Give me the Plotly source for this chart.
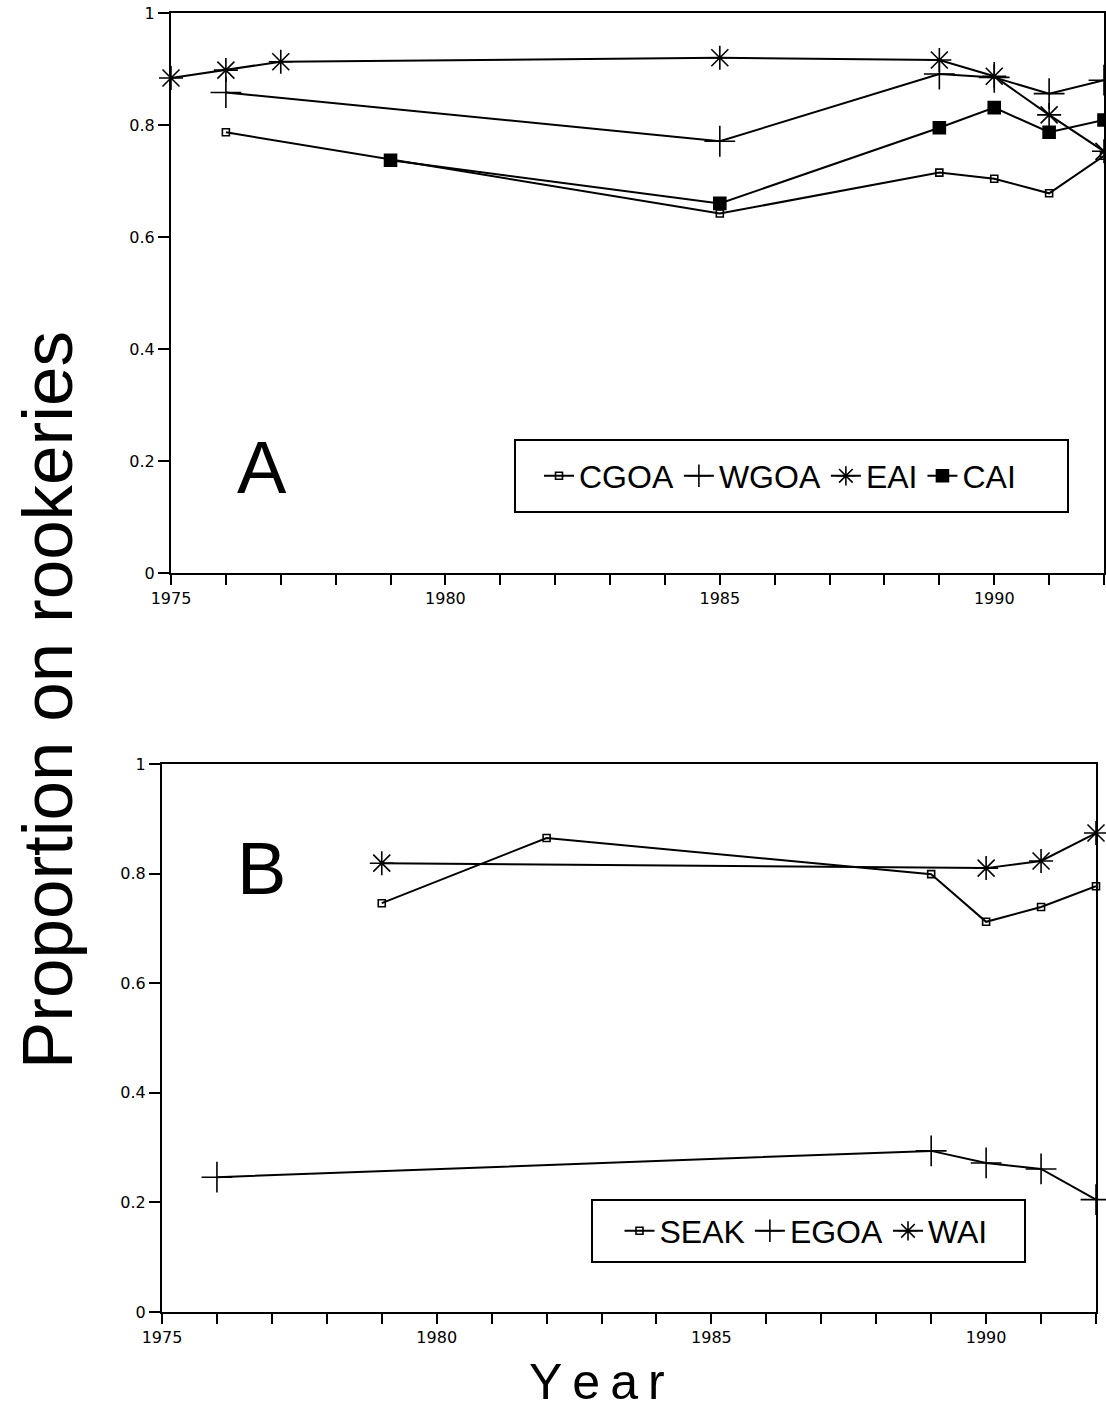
import plotly.graph_objects as go

# ---- Data ----
# Panel A
cgoa_years = [1976, 1985, 1989, 1990, 1991, 1992]
cgoa_vals = [0.787, 0.642, 0.715, 0.704, 0.678, 0.745]
wgoa_years = [1976, 1985, 1989, 1990, 1991, 1992]
wgoa_vals = [0.858, 0.771, 0.891, 0.885, 0.856, 0.880]
eai_years = [1975, 1976, 1977, 1985, 1989, 1990, 1991, 1992]
eai_vals = [0.884, 0.898, 0.913, 0.920, 0.916, 0.887, 0.818, 0.753]
cai_years = [1979, 1985, 1989, 1990, 1991, 1992]
cai_vals = [0.737, 0.660, 0.795, 0.831, 0.787, 0.809]

# Panel B
seak_years = [1979, 1982, 1989, 1990, 1991, 1992]
seak_vals = [0.746, 0.865, 0.799, 0.712, 0.739, 0.777]
egoa_years = [1976, 1989, 1990, 1991, 1992]
egoa_vals = [0.246, 0.294, 0.272, 0.261, 0.205]
wai_years = [1979, 1990, 1991, 1992]
wai_vals = [0.819, 0.810, 0.823, 0.874]

x_tick_years = list(range(1975, 1993))
x_tick_labels = [str(y) if y % 5 == 0 else "" for y in x_tick_years]
y_tick_vals = [0, 0.2, 0.4, 0.6, 0.8, 1]
y_tick_labels = ["0", "0.2", "0.4", "0.6", "0.8", "1"]

W, H = 1106, 1415
FONT = "Liberation Sans"
TICKFONT = dict(family="DejaVu Sans", size=16, color="black")


def px_x(p):
    return p / W


def px_y(p):
    return 1 - p / H


fig = go.Figure()

line = dict(color="black", width=2)


def add(x, y, name, symbol, size, xa, ya, legend, lw=1.6):
    fig.add_trace(go.Scatter(
        x=x, y=y, name=name, mode="lines+markers",
        line=line, cliponaxis=False,
        marker=dict(symbol=symbol, size=size, color="black",
                    line=dict(color="black", width=lw)),
        xaxis=xa, yaxis=ya, legend=legend,
    ))


add(cgoa_years, cgoa_vals, "CGOA", "square-open", 7, "x", "y", "legend")
add(wgoa_years, wgoa_vals, "WGOA", "cross-thin-open", 22, "x", "y", "legend")
add(eai_years, eai_vals, "EAI", "asterisk-open", 20, "x", "y", "legend")
add(cai_years, cai_vals, "CAI", "square", 12, "x", "y", "legend")

add(seak_years, seak_vals, "SEAK", "square-open", 7, "x2", "y2", "legend2")
add(egoa_years, egoa_vals, "EGOA", "cross-thin-open", 22, "x2", "y2", "legend2")
add(wai_years, wai_vals, "WAI", "asterisk-open", 20, "x2", "y2", "legend2")

xcommon = dict(
    tickmode="array", tickvals=x_tick_years, ticktext=x_tick_labels,
    ticks="outside", ticklen=10, tickwidth=1.5, tickcolor="black",
    showline=True, linecolor="black", linewidth=2, mirror=True,
    showgrid=False, zeroline=False, tickfont=TICKFONT, automargin=False,
)
ycommon = dict(
    tickmode="array", tickvals=y_tick_vals, ticktext=y_tick_labels,
    range=[0, 1], ticks="outside", ticklen=11, tickwidth=1.5, tickcolor="black",
    showline=True, linecolor="black", linewidth=2, mirror=True,
    showgrid=False, zeroline=False, tickfont=TICKFONT, automargin=False,
)

LEGFONT = dict(family=FONT, size=32, color="black")

fig.update_layout(
    width=W, height=H,
    margin=dict(l=0, r=0, t=0, b=0, autoexpand=False),
    paper_bgcolor="white", plot_bgcolor="white",
    font=dict(family=FONT, color="black"),
    xaxis=dict(domain=[px_x(171), px_x(1104)], range=[1975, 1992], anchor="y", **xcommon),
    yaxis=dict(domain=[px_y(573), px_y(13)], anchor="x", **ycommon),
    xaxis2=dict(domain=[px_x(162), px_x(1096)], range=[1975, 1992], anchor="y2", **xcommon),
    yaxis2=dict(domain=[px_y(1312), px_y(764)], anchor="x2", **ycommon),
    legend=dict(
        orientation="h", x=px_x(780), y=px_y(476), xanchor="center", yanchor="middle",
        font=LEGFONT, bgcolor="rgba(0,0,0,0)", borderwidth=0, itemclick=False,
    ),
    legend2=dict(
        orientation="h", x=px_x(806), y=px_y(1231), xanchor="center", yanchor="middle",
        font=LEGFONT, bgcolor="rgba(0,0,0,0)", borderwidth=0, itemclick=False,
    ),
    showlegend=True,
    shapes=[
        dict(type="rect", xref="paper", yref="paper",
             x0=px_x(515), x1=px_x(1068), y0=px_y(512), y1=px_y(440),
             line=dict(color="black", width=2), fillcolor="white", layer="below"),
        dict(type="rect", xref="paper", yref="paper",
             x0=px_x(592), x1=px_x(1025), y0=px_y(1262), y1=px_y(1200),
             line=dict(color="black", width=2), fillcolor="white", layer="below"),
    ],
    annotations=[
        dict(text="A", x=px_x(262), y=px_y(467), xref="paper", yref="paper",
             showarrow=False, xanchor="center", yanchor="middle",
             font=dict(family=FONT, size=74, color="black")),
        dict(text="B", x=px_x(261), y=px_y(868), xref="paper", yref="paper",
             showarrow=False, xanchor="center", yanchor="middle",
             font=dict(family=FONT, size=74, color="black")),
        dict(text="Proportion on rookeries", x=px_x(47), y=px_y(700),
             xref="paper", yref="paper", showarrow=False, textangle=-90,
             xanchor="center", yanchor="middle",
             font=dict(family=FONT, size=71, color="black")),
        dict(text="Y\u2009e\u2009a\u2009r", x=px_x(597), y=px_y(1382),
             xref="paper", yref="paper", showarrow=False,
             xanchor="center", yanchor="middle",
             font=dict(family=FONT, size=50, color="black")),
    ],
)

fig.write_html("out.html")
